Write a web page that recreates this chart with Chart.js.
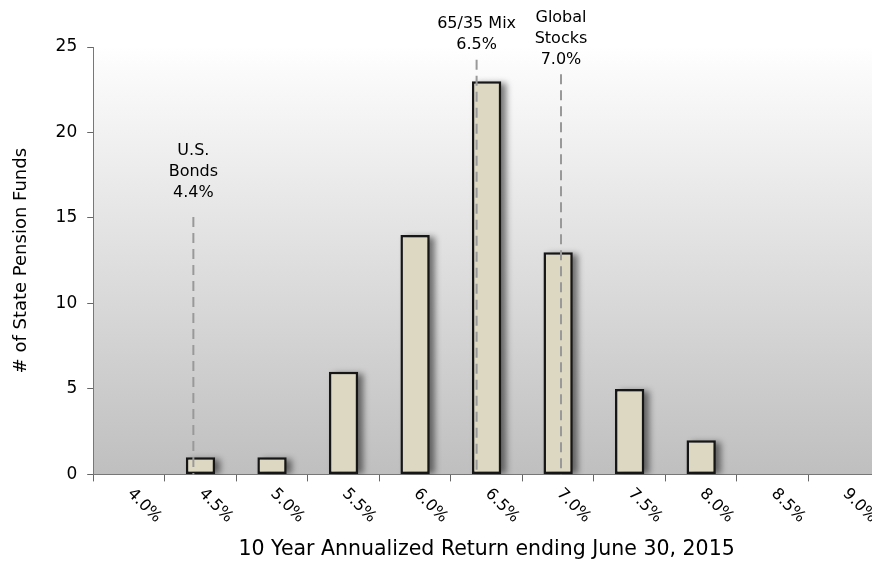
<!DOCTYPE html>
<html lang="en">
<head>
    <meta charset="UTF-8">
    <title>State Pension Fund Returns</title>
    <script src="https://cdn.jsdelivr.net/npm/chart.js@4.4.0/dist/chart.umd.min.js"></script>
    <style>
        html, body { margin: 0; padding: 0; overflow: hidden; background: #fff; }
        #myChart { display: block; }
    </style>
</head>
<body>
    <canvas id="myChart" width="900" height="562" style="width:900px;height:562px"></canvas>

    <script>
        // bins of 10 year annualized return
        const categories = ['4.0%', '4.5%', '5.0%', '5.5%', '6.0%', '6.5%', '7.0%', '7.5%', '8.0%', '8.5%', '9.0%'];
        const fundCounts = [0, 1, 1, 6, 14, 23, 13, 5, 2, 0, 0];
        const yTicks = [0, 5, 10, 15, 20, 25];

        // reference lines (position in % as drawn, top of dashed line, text position in fund counts)
        const refText = [['U.S.', 'Bonds', '4.4%'], ['65/35 Mix', '6.5%'], ['Global', 'Stocks', '7.0%']];
        const refReturn = [4.45, 6.43, 7.02];
        const refLineTop = [15.05, 24.25, 23.4];
        const refTextY = [16.45, 25.1, 24.25];

        const FONT = "'DejaVu Sans', sans-serif";

        function returnToIndex(v) {
            return (v - 4.0) / 0.5;
        }

        const backgroundPlugin = {
            id: 'plotBackground',
            beforeDraw(chart) {
                const { ctx, chartArea } = chart;
                const g = ctx.createLinearGradient(0, chartArea.top, 0, chartArea.bottom);
                g.addColorStop(0, '#ffffff');
                g.addColorStop(0.05, '#fbfbfb');
                g.addColorStop(1, '#bfbfbf');
                ctx.save();
                ctx.fillStyle = g;
                ctx.fillRect(chartArea.left, chartArea.top, chartArea.right - chartArea.left, chartArea.bottom - chartArea.top);
                ctx.restore();
            },
            beforeDatasetsDraw(chart) {
                // soft drop shadow behind each bar
                const { ctx, chartArea } = chart;
                const meta = chart.getDatasetMeta(0);
                ctx.save();
                ctx.beginPath();
                ctx.rect(chartArea.left, chartArea.top, chartArea.right - chartArea.left, chartArea.bottom - chartArea.top);
                ctx.clip();
                ctx.filter = 'blur(3px)';
                ctx.fillStyle = 'rgba(0,0,0,0.5)';
                meta.data.forEach(bar => {
                    const { x, y, base, width } = bar.getProps(['x', 'y', 'base', 'width'], true);
                    if (base - y < 1) return;
                    ctx.fillRect(x - width / 2 + 5, y + 2, width, base - y - 2);
                });
                ctx.restore();
            }
        };

        const refLinePlugin = {
            id: 'refLines',
            afterDatasetsDraw(chart) {
                const { ctx, chartArea, scales } = chart;
                ctx.save();
                refReturn.forEach((r, i) => {
                    const x = scales.x.getPixelForValue(returnToIndex(r));
                    const top = scales.y.getPixelForValue(refLineTop[i]);
                    ctx.strokeStyle = '#999';
                    ctx.lineWidth = 2;
                    ctx.setLineDash([10, 6]);
                    ctx.beginPath();
                    ctx.moveTo(x, top);
                    ctx.lineTo(x, chartArea.bottom);
                    ctx.stroke();

                    ctx.setLineDash([]);
                    ctx.fillStyle = '#000';
                    ctx.font = '16px ' + FONT;
                    ctx.textAlign = 'center';
                    ctx.textBaseline = 'middle';
                    const lines = refText[i];
                    const lastY = scales.y.getPixelForValue(refTextY[i]);
                    lines.forEach((t, j) => {
                        ctx.fillText(t, x, lastY - (lines.length - 1 - j) * 21);
                    });
                });
                ctx.restore();
            },
            afterDraw(chart) {
                // slanted category labels
                const { ctx, scales } = chart;
                ctx.save();
                ctx.fillStyle = '#000';
                ctx.font = '16px ' + FONT;
                ctx.textAlign = 'left';
                ctx.textBaseline = 'middle';
                categories.forEach((c, i) => {
                    const x = scales.x.getPixelForValue(i);
                    ctx.save();
                    ctx.translate(x + 1, scales.x.top + 17);
                    ctx.rotate(Math.PI / 4);
                    ctx.fillText(c, 0, 0);
                    ctx.restore();
                });
                ctx.restore();
            }
        };

        const ctx = document.getElementById('myChart').getContext('2d');
        const myChart = new Chart(ctx, {
            type: 'bar',
            data: {
                labels: categories,
                datasets: [{
                    label: '# of State Pension Funds',
                    data: fundCounts,
                    backgroundColor: '#ddd8c1',
                    borderColor: '#161616',
                    borderWidth: 2.5,
                    borderSkipped: false,
                    categoryPercentage: 1,
                    barPercentage: 0.41
                }]
            },
            options: {
                responsive: false,
                animation: false,
                layout: { padding: { top: 47, right: 20, bottom: 0, left: 0 } },
                plugins: {
                    legend: { display: false },
                    tooltip: { enabled: false }
                },
                scales: {
                    x: {
                        grid: { offset: true, drawOnChartArea: false, drawTicks: true, tickLength: 7, tickColor: '#666', tickWidth: 1 },
                        border: { color: '#777', width: 1 },
                        ticks: { display: false },
                        title: {
                            display: true,
                            text: '10 Year Annualized Return ending June 30, 2015',
                            color: '#000',
                            font: { family: FONT, size: 20.5 },
                            padding: { top: 56, bottom: 0 }
                        }
                    },
                    y: {
                        min: 0,
                        max: 25,
                        afterBuildTicks(scale) {
                            scale.ticks = yTicks.map(v => ({ value: v }));
                        },
                        grid: { drawOnChartArea: false, drawTicks: true, tickLength: 6, tickColor: '#666' },
                        border: { color: '#777', width: 1 },
                        ticks: { color: '#000', padding: 10, font: { family: FONT, size: 17 } },
                        title: {
                            display: true,
                            text: '# of State Pension Funds',
                            color: '#000',
                            font: { family: FONT, size: 18 },
                            padding: { top: 11, bottom: 13 }
                        }
                    }
                }
            },
            plugins: [backgroundPlugin, refLinePlugin]
        });
    </script>
</body>
</html>
